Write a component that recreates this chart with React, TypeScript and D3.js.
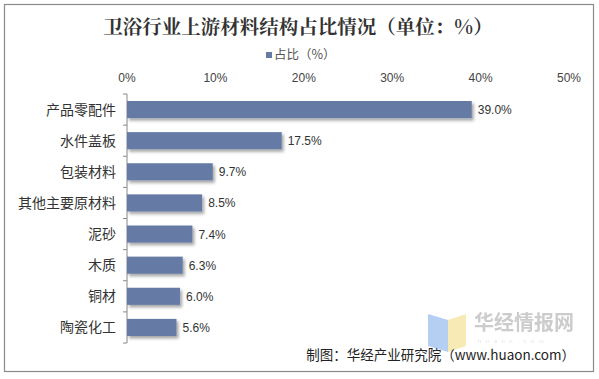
import React from "react";
import * as d3 from "d3";

const categories = ["产品零配件", "水件盖板", "包装材料", "其他主要原材料", "泥砂", "木质", "铜材", "陶瓷化工"];
const values = [39.0, 17.5, 9.7, 8.5, 7.4, 6.3, 6.0, 5.6];
const xTicks = [0, 10, 20, 30, 40, 50];
const title = "卫浴行业上游材料结构占比情况（单位：%）";
const legendLabel = "占比（%）";
const source = "制图：华经产业研究院（www.huaon.com）";

const W = 599, H = 379;
const cjk = "'Noto Sans CJK SC', 'Liberation Sans', sans-serif";
const latin = "'Liberation Sans', Arial, sans-serif";

export default function App() {
  const x = d3.scaleLinear().domain([0, 50]).range([127, 569]);
  const y = d3.scaleBand<string>().domain(categories).range([94, 343]).paddingInner(0.45).paddingOuter(0.225);
  const barColor = "#667aa6";
  const tickYs = d3.range(categories.length + 1).map((i) => 94 + (i * (343 - 94)) / categories.length);

  return (
    <svg width={W} height={H} style={{ position: "absolute", left: 0, top: 0, background: "#fff" }}>
      <defs>
        <filter id="sh" x="-10%" y="-30%" width="130%" height="190%">
          <feDropShadow dx="2" dy="2.5" stdDeviation="1.5" floodColor="#000" floodOpacity="0.35" />
        </filter>
      </defs>
      <rect x={0} y={0} width={W} height={H} fill="#fff" />
      <rect x={4.5} y={4.5} width={589} height={367} fill="none" stroke="#8a8a8a" strokeWidth={1.2} />
      <text x={298} y={34} textAnchor="middle" fontFamily="'Noto Serif CJK SC', 'Noto Sans CJK SC', serif" fontWeight="bold" fontSize={19.5} fill="#333">
        {title}
      </text>
      <rect x={266} y={52} width={6} height={6} fill={barColor} />
      <text x={274} y={59} fontFamily={cjk} fontSize={12.5} fill="#555">{legendLabel}</text>
      {xTicks.map((t) => (
        <text key={t} x={x(t)} y={82} textAnchor="middle" fontFamily={latin} fontSize={12} fill="#444">{t}%</text>
      ))}
      <line x1={127} x2={127} y1={94} y2={343} stroke="#888" strokeWidth={1} />
      {tickYs.map((ty, i) => (
        <line key={i} x1={123} x2={127} y1={ty} y2={ty} stroke="#888" strokeWidth={1} />
      ))}
      {categories.map((c, i) => (
        <g key={c}>
          <rect x={x(0)} y={y(c)!} width={x(values[i]) - x(0)} height={y.bandwidth()} fill={barColor} filter="url(#sh)" />
          <text x={116} y={y(c)! + y.bandwidth() / 2 + 5} textAnchor="end" fontFamily={cjk} fontSize={14} fill="#333">{c}</text>
          <text x={x(values[i]) + 6} y={y(c)! + y.bandwidth() / 2 + 4.5} fontFamily={latin} fontSize={12} fill="#333">{values[i].toFixed(1)}%</text>
        </g>
      ))}
      <g opacity={0.75}>
        <polygon points="428,314 448,320 448,352 428,346" fill="#9cc0ee" />
        <polygon points="448,320 466,314 466,346 448,352" fill="#f6e39c" />
        <text x={474} y={330} fontFamily={cjk} fontWeight="bold" fontSize={20} fill="#bbb">华经情报网</text>
        <text x={478} y={342.5} fontFamily={latin} fontSize={6} fill="#ddd" letterSpacing={4.5}>huaon.com</text>
      </g>
      <text x={575} y={360} textAnchor="end" fontFamily={cjk} fontSize={13.5} fill="#222">{source}</text>
    </svg>
  );
}
